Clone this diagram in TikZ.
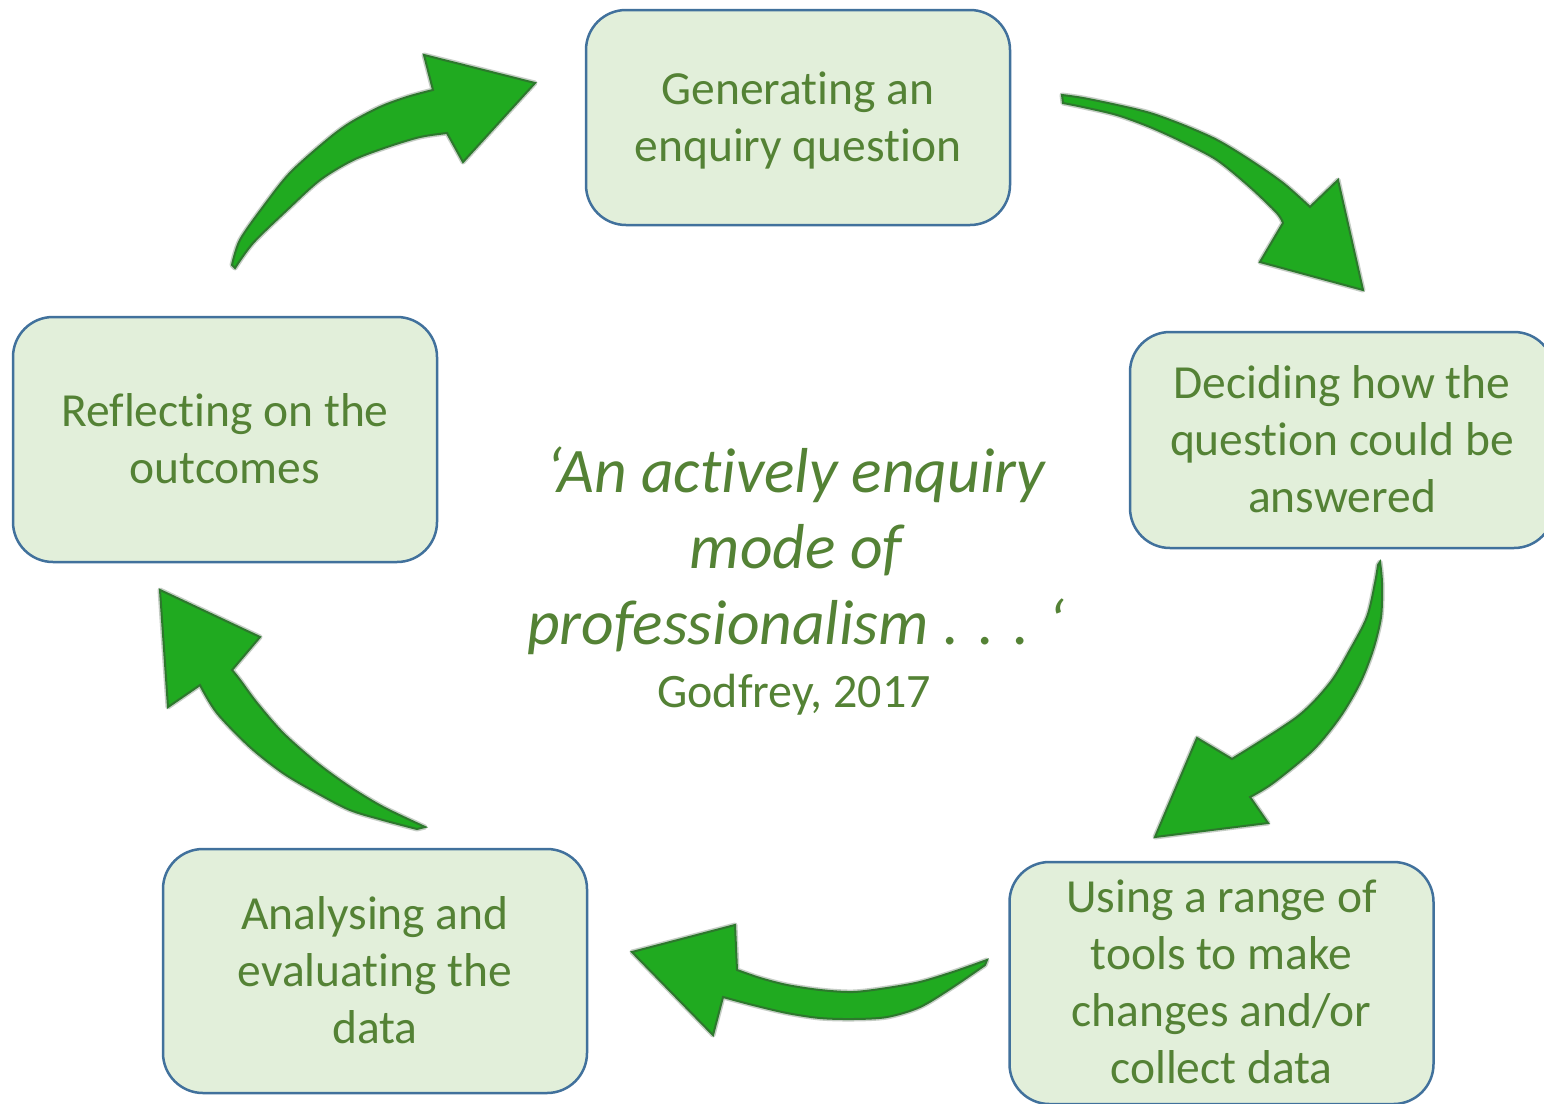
\documentclass[tikz,border=0pt]{standalone}
\usepackage{fontspec}
\setmainfont{Carlito}[Ligatures=NoCommon]

\definecolor{boxfill}{HTML}{E2EFDA}
\definecolor{boxline}{HTML}{41719C}
\definecolor{txtgreen}{HTML}{548235}
\definecolor{arrfill}{RGB}{32,170,32}
\definecolor{arredge}{RGB}{45,120,45}
\definecolor{arrhalo}{RGB}{150,165,150}

% line struts: box text (57pt lines) and quote text (76pt lines)
\newcommand{\bxs}{\rule[-13.2pt]{0pt}{57pt}}
\newcommand{\qts}{\rule[-17.5pt]{0pt}{76pt}}

\tikzset{
  stepbox/.style={draw=boxline, line width=2.5pt, fill=boxfill,
    rounded corners=40pt, inner sep=0pt, align=center, text=txtgreen,
    minimum width=424pt, font=\fontsize{47.5}{57}\selectfont},
  bendarrow/.style={fill=arrfill, draw=arredge, line width=2pt,
    line join=miter,
    preaction={draw=arrhalo, line width=5pt, opacity=0.55, line join=round}},
  quote/.style={text=txtgreen, inner sep=0pt, align=center,
    font=\fontsize{63.5}{76}\selectfont\itshape},
  source/.style={text=txtgreen, inner sep=0pt,
    font=\fontsize{48}{57}\selectfont}
}

\begin{document}
\begin{tikzpicture}[x=1pt, y=-1pt]
\useasboundingbox (0,0) rectangle (1544,1103);
\fill[white] (0,0) rectangle (1544,1103);

% the five stages of the cycle
\node[stepbox, minimum height=215pt] (gen) at (798,117.5)
  {\bxs Generating an\\\bxs enquiry question};
\node[stepbox, minimum height=216pt] (decide) at (1342,440)
  {\bxs Deciding how the\\\bxs question could be\\\bxs answered};
\node[stepbox, minimum height=242pt] (tools) at (1221.5,983)
  {\bxs Using a range of\\\bxs tools to make\\\bxs changes and/or\\\bxs collect data};
\node[stepbox, minimum height=244pt] (analyse) at (375,971)
  {\bxs Analysing and\\\bxs evaluating the\\\bxs data};
\node[stepbox, minimum height=245pt] (reflect) at (225,439.5)
  {\bxs Reflecting on the\\\bxs outcomes};

% central quotation
\node[quote, anchor=north] (quote) at (796,434)
  {\qts ‘An actively enquiry\\\qts mode of\\\qts professionalism . . . ‘};
\node[source, anchor=base] (src) at (794,707) {Godfrey, 2017};

% curved block arrows between the stages
% reflect -> gen
\filldraw[bendarrow] (232,265)
  -- plot[smooth] coordinates {(232,265) (240,240) (263,207) (290,173) (327,140) (350,123) (380,107) (407,97) (433,90)}
  -- (424,55) -- (535,83) -- (463,162) -- (447,133)
  -- plot[smooth] coordinates {(447,133) (420,137) (387,147) (353,160) (320,180) (287,210) (253,243) (235,268)}
  -- cycle;

% gen -> decide
\filldraw[bendarrow] (1062,95)
  -- plot[smooth] coordinates {(1062,95) (1083,98) (1117,105) (1150,113) (1183,125) (1217,140) (1250,160) (1283,183) (1310,207)}
  -- (1338,180) -- (1363,290) -- (1260,262) -- (1283,223)
  -- plot[smooth] coordinates {(1283,223) (1277,213) (1250,187) (1217,160) (1183,142) (1150,127) (1117,115) (1083,107) (1063,103)}
  -- cycle;

% decide -> tools
\filldraw[bendarrow] (1380,562)
  -- plot[smooth] coordinates {(1380,562) (1382,583) (1381,617) (1373,650) (1360,683) (1340,717) (1313,750) (1273,783) (1250,797)}
  -- (1268,823) -- (1155,837) -- (1197,738) -- (1232,759)
  -- plot[smooth] coordinates {(1232,759) (1297,717) (1330,683) (1350,650) (1367,617) (1375,583) (1378,565)}
  -- cycle;

% tools -> analyse
\filldraw[bendarrow] (987,960)
  -- plot[smooth] coordinates {(987,960) (953,972) (920,982) (887,988) (853,992) (820,990) (787,985) (760,978) (737,970)}
  -- (735,925) -- (632,952) -- (713,1035) -- (723,997)
  -- plot[smooth] coordinates {(723,997) (753,1005) (787,1013) (820,1018) (853,1019) (887,1017) (920,1007) (953,987) (985,965)}
  -- cycle;

% analyse -> reflect
\filldraw[bendarrow] (425,827)
  -- plot[smooth] coordinates {(425,827) (383,807) (350,787) (317,763) (283,733) (257,703) (240,680) (232,670)}
  -- (260,637) -- (160,590) -- (168,707) -- (200,685)
  -- plot[smooth] coordinates {(200,685) (217,713) (250,747) (283,773) (317,793) (350,810) (383,820) (417,829)}
  -- cycle;
\end{tikzpicture}
\end{document}
